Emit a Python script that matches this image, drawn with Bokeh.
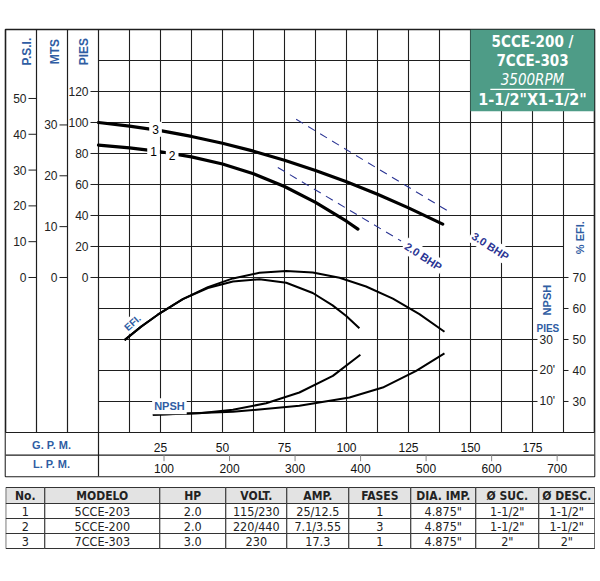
import math
from bokeh.plotting import figure
from bokeh.models import Range1d, Grid, FixedTicker, BoxAnnotation
from bokeh.layouts import column
from bokeh.embed import file_html
from bokeh.resources import INLINE
from bokeh.core.properties import value

# ---------------- data ----------------
gpm_ticks = [25, 50, 75, 100, 125, 150, 175]
lpm_ticks = [100, 200, 300, 400, 500, 600, 700]
pies_ticks = [0, 20, 40, 60, 80, 100, 120]
mts_ticks = [0, 10, 20, 30]
psi_ticks = [0, 10, 20, 30, 40, 50]
npsh_ticks = [10, 20, 30]
npsh_tick_labels = ["10'", "20'", "30"]
efi_ticks = [30, 40, 50, 60, 70]

# head curves (GPM, feet)
head3_gpm = [0, 12.5, 25, 37.5, 50, 62.5, 75, 87.5, 100, 112.5, 125, 138.8]
head3_ft = [100, 97.7, 94.75, 91.0, 86.6, 81.5, 75.6, 69.0, 61.7, 53.65, 44.9, 34.4]
head12_gpm = [0, 12.5, 25, 37.5, 50, 62.5, 75, 87.5, 100, 104.6]
head12_ft = [85.4, 83.65, 81.15, 77.8, 73.2, 66.95, 58.7, 48.45, 36.3, 31.2]

# efficiency curves (GPM, %)
efi3_gpm = [10.5, 17.2, 23.9, 34.0, 44.1, 54.2, 64.9, 75.7, 86.4, 97.2, 107.9, 118.7, 129.4, 139.5]
efi3_pct = [49.8, 54.15, 58.0, 63.0, 66.9, 69.7, 71.5, 72.1, 71.6, 69.9, 67.1, 63.2, 58.2, 52.5]
efi12_gpm = [10.5, 17.2, 23.9, 34.0, 44.1, 54.2, 64.9, 75.7, 86.4, 94.4, 99.9, 105.2]
efi12_pct = [49.8, 54.15, 58.0, 63.0, 66.6, 68.7, 69.45, 68.3, 65.0, 61.0, 57.6, 53.6]

# NPSH curves (GPM, feet)
npsh12_gpm = [21.9, 40.7, 54.2, 67.6, 81.0, 94.5, 105.6]
npsh12_ft = [5.7, 6.2, 7.3, 9.45, 12.9, 18.25, 25.05]
npsh3_gpm = [21.9, 54.2, 81.0, 101.2, 114.6, 128.1, 139.5]
npsh3_ft = [5.7, 6.65, 8.6, 11.3, 14.5, 19.9, 25.5]

# BHP lines (GPM, feet)
bhp2_gpm = [72.3, 122]
bhp2_ft = [71, 23.6]
bhp3_gpm = [79.7, 141.5]
bhp3_ft = [102.1, 42.3]

# table
tbl_header = ["No.", "MODELO", "HP", "VOLT.", "AMP.", "FASES", "DIA. IMP.", "Ø SUC.", "Ø DESC."]
tbl_rows = [
    ["1", "5CCE-203", "2.0", "115/230", "25/12.5", "1", '4.875"', '1-1/2"', '1-1/2"'],
    ["2", "5CCE-200", "2.0", "220/440", "7.1/3.55", "3", '4.875"', '1-1/2"', '1-1/2"'],
    ["3", "7CCE-303", "3.0", "230", "17.3", "1", '4.875"', '2"', '2"'],
]

title_lines = ["5CCE-200 /", "7CCE-303", "3500RPM", '1-1/2"X1-1/2"']

# ---------------- conversions ----------------
def efi_to_ft(e):
    return 2.0 * (e - 70.0)

def npsh_to_ft(n):
    return -100.0 + 2.0 * n

def psi_to_ft(p_):
    return p_ * 2.31

def mts_to_ft(m):
    return m * 3.2808

def lpm_to_gpm(l):
    return l / 3.785

BLUE = "#2F5DA3"
NAVY = "#2B3594"
GRID = "#1e1e1e"
GREEN = "#4E9C87"
TICKFONT = value("Liberation Sans")
BOXFONT = value("DejaVu Sans Condensed, DejaVu Sans")

X0, X1 = -37.5, 200.0
Y0, Y1 = -128.4, 160.0
ROW_DIV = -114.65
BOX_L, BOX_B = 150.0, 107.3
HW = 0.24   # half thickness of a rule in GPM units (~1.2 px)
HH = 0.38   # half thickness of a rule in feet units (~1.2 px)

p = figure(frame_width=589, frame_height=447, x_range=Range1d(X0, X1), y_range=Range1d(Y0, Y1),
           output_backend="svg", toolbar_location=None, x_axis_location=None, y_axis_location=None,
           min_border_left=5, min_border_right=2, min_border_top=29, min_border_bottom=10)
p.xgrid.visible = False
p.ygrid.visible = False
p.outline_line_color = GRID
p.outline_line_width = 1.6
p.background_fill_color = "white"
p.border_fill_color = "white"

# vertical grid: the library's own grid renderer on fixed ticks
vgrid = Grid(dimension=0, ticker=FixedTicker(ticks=[12.5 * k for k in range(1, 16)]),
             grid_line_color=GRID, grid_line_width=1.1)
p.add_layout(vgrid)

# horizontal grid and column dividers as box annotations (thin bars)
hy = [20.0 * k for k in range(-4, 8)]
for gy in hy:
    gx1 = 200.0 if gy >= 40 else (187.5 if gy >= 0 else 175.0)
    p.add_layout(BoxAnnotation(left=0.0, right=gx1, bottom=gy - HH, top=gy + HH, fill_color=GRID,
                               fill_alpha=1.0, line_color=None, level="underlay"))
for gx in (-25.0, -12.5, 0.0):
    p.add_layout(BoxAnnotation(left=gx - HW, right=gx + HW, bottom=-100.0, top=Y1, fill_color=GRID,
                               fill_alpha=1.0, line_color=None, level="underlay"))

# blank the G.P.M./L.P.M. rows (vertical grid must not cross them), then their rules
p.quad(left=[X0], right=[X1], bottom=[Y0], top=[-100.0], fill_color="white", line_color=None)
p.quad(left=[-HW], right=[HW], bottom=[Y0], top=[-100.0], fill_color=GRID, line_color=None)
p.quad(left=[X0, X0], right=[X1, X1], bottom=[-100.0 - HH, ROW_DIV - HH],
       top=[-100.0 + HH, ROW_DIV + HH], fill_color=GRID, line_color=None)

# title box
p.quad(left=[BOX_L], right=[X1], top=[Y1], bottom=[BOX_B], fill_color=GREEN, line_color=None)
ty = [151.8, 139.5, 127.3, 115.0]
p.text(x=[175, 175], y=ty[:2], text=title_lines[:2], text_color="white", text_font=BOXFONT,
       text_font_style="bold", text_font_size="15px", text_align="center", text_baseline="middle")
p.text(x=[175], y=[ty[2]], text=[title_lines[2]], text_color="white", text_font=BOXFONT,
       text_font_style="italic", text_font_size="15px", text_align="center", text_baseline="middle")
p.line([158.0, 192.0], [121.4, 121.4], line_color="white", line_width=1.3)
p.text(x=[175], y=[ty[3]], text=[title_lines[3]], text_color="white", text_font=BOXFONT,
       text_font_style="bold", text_font_size="16px", text_align="center", text_baseline="middle")

# BHP lines
p.line(bhp2_gpm, bhp2_ft, line_color=NAVY, line_width=1.1, line_dash="8 6")
p.line(bhp3_gpm, bhp3_ft, line_color=NAVY, line_width=1.1, line_dash="8 6")

# head curves
p.line(head3_gpm, head3_ft, line_color="black", line_width=3.2, line_cap="round", line_join="round")
p.line(head12_gpm, head12_ft, line_color="black", line_width=3.2, line_cap="round", line_join="round")

# efficiency curves
p.line(efi3_gpm, [efi_to_ft(e) for e in efi3_pct], line_color="black", line_width=2, line_join="round")
p.line(efi12_gpm, [efi_to_ft(e) for e in efi12_pct], line_color="black", line_width=2, line_join="round")

# NPSH curves
p.line(npsh3_gpm, [npsh_to_ft(n) for n in npsh3_ft], line_color="black", line_width=2, line_join="round")
p.line(npsh12_gpm, [npsh_to_ft(n) for n in npsh12_ft], line_color="black", line_width=2, line_join="round")

# curve labels
p.text(x=[23.0, 22.2, 29.7], y=[95.7, 81.0, 78.5], text=["3", "1", "2"], text_color="black",
       text_font=TICKFONT, text_font_size="12px", text_align="center", text_baseline="middle",
       background_fill_color="white", padding=3)
p.text(x=[13.7], y=[-29.2], text=["EFI."], angle=0.72, text_color=BLUE, text_font=TICKFONT,
       text_font_style="bold", text_font_size="10px", text_align="center", text_baseline="middle",
       background_fill_color="white", padding=1)
p.text(x=[28.6], y=[-83.0], text=["NPSH"], text_color=BLUE, text_font=TICKFONT,
       text_font_style="bold", text_font_size="11px", text_align="center", text_baseline="middle",
       background_fill_color="white", padding=2)
p.text(x=[131.0, 158.0], y=[13.5, 20.2], text=["2.0 BHP", "3.0 BHP"], angle=-0.58, text_color=NAVY,
       text_font=TICKFONT, text_font_style="bold", text_font_size="11px", text_align="center",
       text_baseline="middle", background_fill_color="white", padding=2)

# left axis columns
left_axes = [
    (-25.0, psi_ticks, [psi_to_ft(v) for v in psi_ticks], "P.S.I.", -29.0),
    (-12.5, mts_ticks, [mts_to_ft(v) for v in mts_ticks], "MTS", -17.6),
    (0.0, pies_ticks, [float(v) for v in pies_ticks], "PIES", -6.0),
]
for ax_x, tv, ty_ft, title, tx in left_axes:
    n = len(tv)
    p.ray(x=[ax_x] * n, y=list(ty_ft), length=8, length_units="screen", angle=math.pi,
          line_color=GRID, line_width=1)
    p.text(x=[ax_x] * n, y=list(ty_ft), text=[str(v) for v in tv], x_offset=-10, text_align="right",
           text_baseline="middle", text_font=TICKFONT, text_font_size="12px", text_color="#222222")
    p.text(x=[tx], y=[145.7], text=[title], angle=math.pi / 2, text_align="center",
           text_baseline="middle", text_font=TICKFONT, text_font_style="bold",
           text_font_size="12px", text_color=BLUE)

# right axis: NPSH
npsh_y = [npsh_to_ft(v) for v in npsh_ticks]
p.ray(x=[175.0] * len(npsh_ticks), y=list(npsh_y), length=5, length_units="screen", angle=0,
      line_color=GRID, line_width=1)
p.text(x=[175.0] * len(npsh_ticks), y=list(npsh_y), text=npsh_tick_labels, x_offset=7,
       text_align="left", text_baseline="middle", text_font=TICKFONT, text_font_size="12px",
       text_color="#222222")
p.text(x=[180.8], y=[-14.6], text=["NPSH"], angle=math.pi / 2, text_align="center",
       text_baseline="middle", text_font=TICKFONT, text_font_style="bold", text_font_size="11px",
       text_color=BLUE)
p.text(x=[181.2], y=[-33.0], text=["PIES"], text_align="center", text_baseline="middle",
       text_font=TICKFONT, text_font_style="bold", text_font_size="10px", text_color=BLUE)

# right axis: % EFI
efi_y = [efi_to_ft(v) for v in efi_ticks]
p.ray(x=[187.5] * len(efi_ticks), y=list(efi_y), length=5, length_units="screen", angle=0,
      line_color=GRID, line_width=1)
p.text(x=[187.5] * len(efi_ticks), y=list(efi_y), text=[str(v) for v in efi_ticks], x_offset=9,
       text_align="left", text_baseline="middle", text_font=TICKFONT, text_font_size="12px",
       text_color="#222222")
p.text(x=[194.2], y=[25.7], text=["% EFI."], angle=math.pi / 2, text_align="center",
       text_baseline="middle", text_font=TICKFONT, text_font_style="bold", text_font_size="11px",
       text_color=BLUE)

# bottom rows: G.P.M. and L.P.M.
p.text(x=list(gpm_ticks), y=[-110.0] * len(gpm_ticks), text=[str(v) for v in gpm_ticks],
       text_align="center", text_baseline="middle", text_font=TICKFONT, text_font_size="12px",
       text_color="#111111")
lpm_x = [lpm_to_gpm(v) for v in lpm_ticks]
p.ray(x=list(lpm_x), y=[ROW_DIV] * len(lpm_x), length=6, length_units="screen", angle=-math.pi / 2,
      line_color="#888888", line_width=1)
p.text(x=list(lpm_x), y=[-123.0] * len(lpm_x), text=[str(v) for v in lpm_ticks],
       text_align="center", text_baseline="middle", text_font=TICKFONT, text_font_size="12px",
       text_color="#111111")
p.text(x=[-17.7, -17.7], y=[-108.0, -120.5], text=["G.  P.  M.", "L.  P.  M."], text_align="center",
       text_baseline="middle", text_font=TICKFONT, text_font_style="bold", text_font_size="11px",
       text_color=BLUE)

# ---------------- table ----------------
t = figure(frame_width=590, frame_height=63, x_range=Range1d(6.7, 596.7), y_range=Range1d(551, 488),
           output_backend="svg", toolbar_location=None, x_axis_location=None, y_axis_location=None,
           min_border=0, min_border_left=5)
t.xgrid.visible = False
t.ygrid.visible = False
t.outline_line_color = None
t.background_fill_color = "white"
t.border_fill_color = "white"

col_edges = [7, 46, 161, 227, 288, 350, 412, 477, 540, 596]
row_edges = [489, 505, 520, 535, 550]
ncol = len(tbl_header)
lefts, rights, tops, bottoms, fills = [], [], [], [], []
for r in range(4):
    for c in range(ncol):
        lefts.append(col_edges[c])
        rights.append(col_edges[c + 1])
        tops.append(row_edges[r])
        bottoms.append(row_edges[r + 1])
        fills.append("#E3E3E3" if r == 0 else "white")
t.quad(left=lefts, right=rights, top=tops, bottom=bottoms, fill_color=fills,
       line_color="#333333", line_width=1)
cx = [(col_edges[c] + col_edges[c + 1]) / 2 for c in range(ncol)]
t.text(x=list(cx), y=[(row_edges[0] + row_edges[1]) / 2] * ncol, text=tbl_header,
       text_align="center", text_baseline="middle", text_font=BOXFONT, text_font_style="bold",
       text_font_size="12px", text_color="#222222")
for r, row in enumerate(tbl_rows):
    yc = (row_edges[r + 1] + row_edges[r + 2]) / 2
    t.text(x=list(cx), y=[yc] * ncol, text=row, text_align="center", text_baseline="middle",
           text_font=BOXFONT, text_font_size="12.5px", text_color="#222222")

layout = column(p, t, spacing=0)
open("out.html", "w").write(file_html(layout, INLINE))
